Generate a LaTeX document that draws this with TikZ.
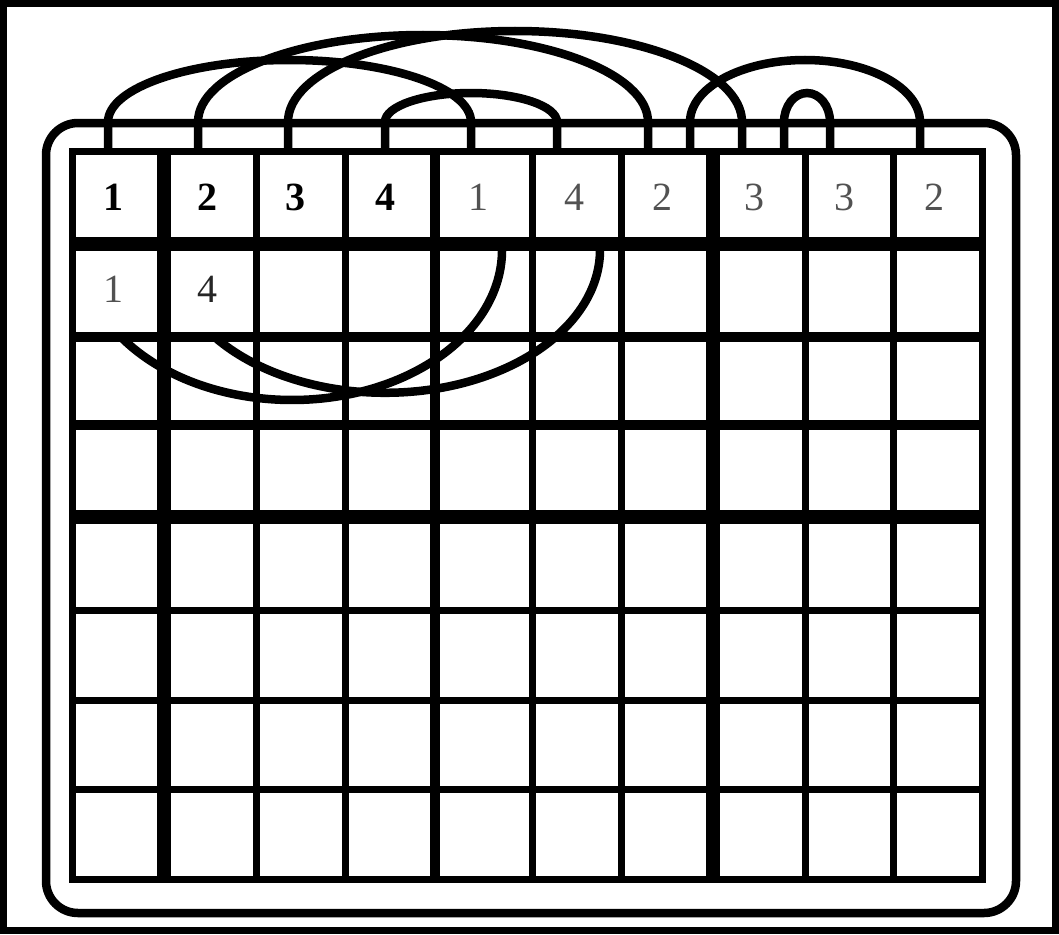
\documentclass[tikz,border=0pt]{standalone}
\usepackage{fontspec}
\setmainfont{Liberation Serif}

\begin{document}
\begin{tikzpicture}[x=1pt,y=-1pt,every node/.style={font=\fontsize{40}{44}\selectfont,inner sep=0pt},fine/.style={line width=7pt},mid/.style={line width=10pt},bold/.style={line width=14.5pt},loop/.style={line width=8.5pt},lead/.style={text=black,font=\fontsize{40}{44}\selectfont\bfseries},dark/.style={text=black!85},pale/.style={text=black!68}]
\path[use as bounding box] (0,0) rectangle (1059,934);
\fill[white] (0,0) rectangle (1059,934);
\draw[line width=7pt] (3.5,3.5) rectangle (1055.5,930.5);
\draw[loop,rounded corners=32pt] (46,123) rectangle (1016,913);

\draw[fine] (72,151) rectangle (982,879);
\foreach \y/\s in {244/bold,337/mid,425/mid,517/bold,610/fine,700/fine,789/fine} \draw[\s] (72,\y) -- (982,\y);
\foreach \x/\s in {164/bold,256/fine,345/fine,435/mid,532/fine,621/fine,713/bold,805/fine,893/fine} \draw[\s] (\x,151) -- (\x,879);

\foreach \x/\d [count=\i] in {113/1,207/2,295/3,385/4} \node[lead] (t\i) at (\x,197) {\d};
\foreach \x/\d [count=\i from 5] in {478/1,574/4,662/2,754/3,844/3,934/2} \node[pale] (t\i) at (\x,197) {\d};
\node[pale] (s1) at (113,289) {1};
\node[dark] (s2) at (207,289) {4};

\foreach \x [count=\i] in {108,198,288,385,471,557,648,690,742,784,830,920} \coordinate (l\i) at (\x,151);
\draw[loop] (l1) -- ++(0,-29) arc[start angle=180,end angle=360,x radius=181.5,y radius=62] -- (l5);
\draw[loop] (l2) -- ++(0,-29) arc[start angle=180,end angle=360,x radius=225,y radius=87] -- (l7);
\draw[loop] (l3) -- ++(0,-29) arc[start angle=180,end angle=360,x radius=227,y radius=91] -- (l9);
\draw[loop] (l4) -- ++(0,-29) arc[start angle=180,end angle=360,x radius=86,y radius=29] -- (l6);
\draw[loop] (l8) -- ++(0,-29) arc[start angle=180,end angle=360,x radius=115,y radius=62] -- (l12);
\draw[loop] (l10) -- ++(0,-29) arc[start angle=180,end angle=360,x radius=23,y radius=29] -- (l11);

\coordinate (c1) at (123,339);
\coordinate (c2) at (217,339);
\draw[loop] (c1) arc[start angle=143.6,end angle=0,x radius=210,y radius=150];
\draw[loop] (c2) arc[start angle=141.4,end angle=0,x radius=215,y radius=143];
\end{tikzpicture}
\end{document}
